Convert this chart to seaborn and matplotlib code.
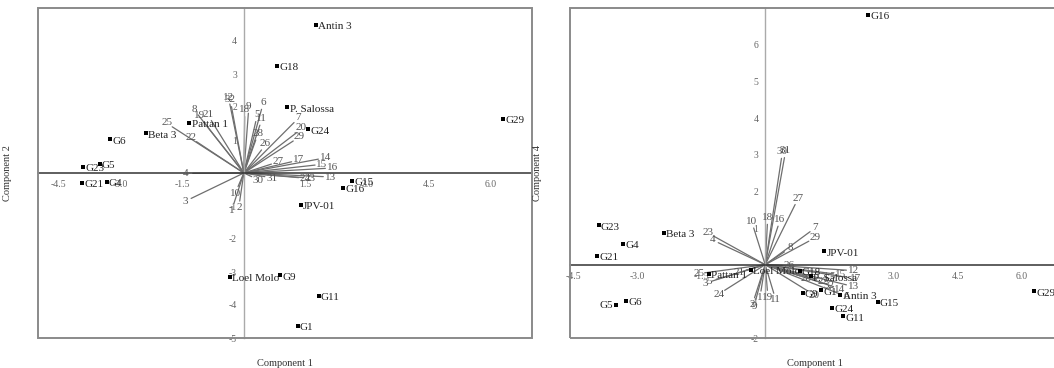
import numpy as np
import matplotlib
matplotlib.use("Agg")
import matplotlib.pyplot as plt
import seaborn as sns
from matplotlib.patches import Rectangle


# genotype scores
genotypes = ["Antin 3", "G18", "P. Salossa", "G29", "G24", "Beta 3", "Pattan 1",
             "G6", "G5", "G23", "G21", "G4", "G15", "G16", "JPV-01",
             "Loel Molo", "G9", "G11", "G1"]
comp1 = [1.76, 0.81, 1.06, 6.30, 1.57, -2.37, -1.32,
         -3.25, -3.50, -3.90, -3.93, -3.33, 2.63, 2.41, 1.38,
         -0.34, 0.88, 1.82, 1.31]
comp2 = [4.50, 3.25, 1.99, 1.64, 1.32, 1.20, 1.52,
         1.02, 0.27, 0.18, -0.31, -0.26, -0.24, -0.44, -0.97,
         -3.14, -3.10, -3.72, -4.63]
comp4 = [-0.82, -0.16, -0.32, -0.73, -1.17, 0.86, -0.25,
         -0.98, -1.11, 1.07, 0.23, 0.56, -1.02, 6.81, 0.36,
         -0.15, -0.77, -1.41, -0.70]

# variable loadings (scaled), panel 1: comp1 vs comp2
var_labels = [str(i) for i in range(1, 33)]
load_x_12 = [-0.24, -0.10, -1.28, -1.24, 0.29, 0.43, 1.22, -1.11, 0.11, -0.14,
             0.39, -0.34, 1.93, 1.81, 1.73, 1.98, 1.16, 0.02, -0.98, 1.28,
             -0.79, -1.15, 1.45, 1.33, -1.74, 0.43, 0.67, 0.29, 1.20, 0.19,
             0.51, -0.30]
load_y_12 = [-0.92, -0.85, -0.77, -0.01, 1.56, 1.93, 1.53, 1.76, 1.81, -0.41,
             1.45, 2.09, -0.11, 0.42, 0.24, 0.14, 0.34, 1.71, 1.55, 1.22,
             1.59, 0.95, -0.14, -0.14, 1.40, 0.70, 0.27, 1.00, 0.97, -0.11,
             -0.11, 2.01]

# panel 2: comp1 vs comp4
load_x_14 = [-0.10, -0.25, -1.25, -1.10, -1.15, 1.75, 1.05, 0.45, -0.22, -0.27,
             0.20, 1.90, 1.90, 1.60, 1.60, 0.30, 1.95, 0.05, 0.05, 1.00,
             -0.45, 1.20, -1.21, -0.95, -1.40, 0.40, 0.70, 0.80, 1.02, 0.38,
             0.45, 1.35]
load_y_14 = [-0.72, -0.90, -0.45, 0.60, -0.40, -0.80, 0.90, 0.35, -0.95, 1.00,
             -0.78, -0.15, -0.55, -0.60, -0.25, 1.05, -0.35, 1.10, -0.70, -0.72,
             -0.15, -0.40, 0.78, -0.70, -0.22, -0.02, 1.64, -0.30, 0.64, 2.90,
             2.92, -0.50]

xticks = [-4.5, -3.0, -1.5, 1.5, 3.0, 4.5, 6.0]

sns.set_style("white")
plt.rcParams['font.family'] = ['Liberation Serif', 'DejaVu Serif']
plt.rcParams['axes.unicode_minus'] = False

W, H = 1054, 368
fig = plt.figure(figsize=(W / 100, H / 100), dpi=100)


def biplot(ax, xs, ys, vx, vy, xlim, ylim, ylabel, left_labels=()):
    ax.set_xlim(*xlim)
    ax.set_ylim(*ylim)
    for s in ['top', 'right']:
        ax.spines[s].set_visible(False)
    ax.spines['left'].set_position(('data', 0))
    ax.spines['bottom'].set_position(('data', 0))
    ax.spines['left'].set_color('#aaaaaa')
    ax.spines['left'].set_linewidth(1.0)
    ax.spines['bottom'].set_color('#333333')
    ax.spines['bottom'].set_linewidth(1.1)
    ax.add_patch(Rectangle((0, 0), 1, 1, transform=ax.transAxes, fill=False,
                           ec='#8a8a8a', lw=1.4, clip_on=False, zorder=5))

    ax.set_xticks(xticks)
    ax.set_xticklabels([f"{t:.1f}" for t in xticks])
    yt = list(range(int(ylim[0]), int(ylim[1])))
    yt = [t for t in yt if t != 0]
    ax.set_yticks(yt)
    ax.tick_params(direction='out', length=3, width=0.7, color='#777777',
                   labelsize=7, labelcolor='#666666', pad=2)

    # loading vectors
    for lab, x, y in zip(var_labels, vx, vy):
        ax.plot([0, x], [0, y], color='#6e6e6e', lw=0.9, zorder=2)
        n = np.hypot(x, y)
        ax.annotate(lab, (x, y), xytext=(5 * x / n, 5 * y / n),
                    textcoords='offset points', ha='center', va='center',
                    fontsize=8, color='#555555', zorder=3)

    # genotype scores
    sns.scatterplot(x=xs, y=ys, ax=ax, color='black', marker='s', s=7,
                    linewidth=0, zorder=4, legend=False)
    for name, x, y in zip(genotypes, xs, ys):
        if name in left_labels:
            ax.annotate(name, (x, y), xytext=(-2, 3), textcoords='offset points',
                        ha='right', va='top', fontsize=8, color='#222222')
        else:
            ax.annotate(name, (x, y), xytext=(1.5, 2), textcoords='offset points',
                        ha='left', va='top', fontsize=8, color='#222222')

    ax.set_xlabel("Component 1", fontsize=7.5, color='#333333')
    ax.set_ylabel(ylabel, fontsize=7.5, color='#333333')


# left panel
xl1 = (-5.0, 7.0)
yl1 = (-5.0, 5.0)
ax1 = fig.add_axes([38 / W, 30 / H, 494 / W, 330 / H])
biplot(ax1, comp1, comp2, load_x_12, load_y_12, xl1, yl1, "Component 2")
ax1.xaxis.set_label_coords(0.5, -0.065)
ax1.yaxis.set_label_coords(-0.053, 0.5)

# right panel (cut at the right edge like the reference)
xl2 = (-4.57, 6.9)
yl2 = (-2.0, 7.0)
ax2 = fig.add_axes([570 / W, 30 / H, 490 / W, 330 / H])
biplot(ax2, comp1, comp4, load_x_14, load_y_14, xl2, yl2, "Component 4",
       left_labels=("G5",))
ax2.xaxis.set_label_coords(0.5, -0.065)
ax2.yaxis.set_label_coords(-0.057, 0.5)

fig.savefig("out.png", dpi=100)
plt.close()
